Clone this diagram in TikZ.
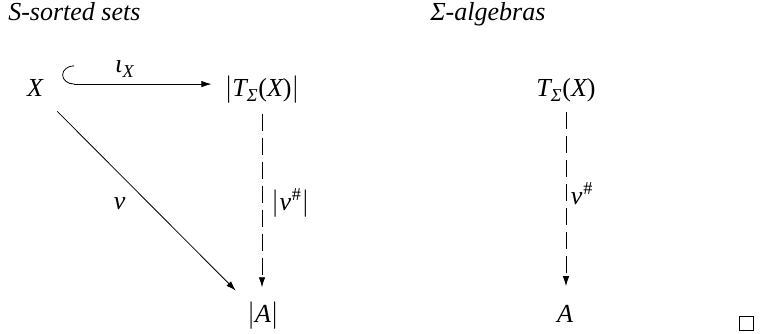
\documentclass[tikz,border=0pt]{standalone}
\usepackage{amsmath}
\usepackage{mathspec}
\setmainfont{Liberation Serif}
\setmathsfont(Digits,Latin,Greek){Liberation Serif}
\usetikzlibrary{arrows.meta, positioning}

\tikzset{
  obj/.style={inner sep=0pt, anchor=base},
  lbl/.style={inner sep=0pt},
  mor/.style={-{Latex[length=7.5pt, width=4.8pt]}, line width=0.6pt},
  hookmor/.style={{Hooks[right, length=9pt, width=28pt]}-{Latex[length=7.5pt, width=4.8pt]}, line width=0.6pt},
  dashmor/.style={mor, dash pattern=on 12.75pt off 5.25pt}
}

\begin{document}
\begin{tikzpicture}[x=0.75pt, y=0.75pt, font=\fontsize{19.5}{23}\selectfont]
  \useasboundingbox (0,0) rectangle (761,334);

  % headings
  \node[obj, anchor=base west] (sets) at (8,313) {\textit{S-sorted sets}};
  \node[obj, anchor=base west] (algs) at (430,313) {\textit{Σ-algebras}};

  % objects
  \node[obj] (X) at (35,237) {$X$};
  \node[obj] (TX) at (262,237) {$|T_{\text{\itshape Σ}}\text{(}X\text{)}|$};
  \node[obj] (A1) at (263,11) {$|A|$};
  \node[obj] (T2) at (566,237) {$T_{\text{\itshape Σ}}\text{(}X\text{)}$};
  \node[obj] (A2) at (565,11) {$A$};

  % morphisms
  \draw[hookmor, shorten <=14.25pt, shorten >=9.75pt]
    ([yshift=3.3pt]X.east) -- ([yshift=3.3pt]X.east -| TX.west)
    node[lbl, pos=0.45, above=5pt] (iota) {$\iota_X$};
  \draw[mor, shorten <=15pt, shorten >=12pt]
    (X.south east) -- (A1.north west)
    node[lbl, pos=0.52, left=17pt] (nu) {$\nu$};
  \draw[dashmor, shorten <=7pt, shorten >=11pt]
    (TX.south) -- (TX.south |- A1.north)
    node[lbl, pos=0.5, right=6.75pt] (nus1) {$|\nu^{\text{\#}}|$};
  \draw[dashmor, shorten <=7pt, shorten >=14.5pt]
    (T2.south) -- (T2.south |- A2.north)
    node[lbl, pos=0.45, right=3pt] (nus2) {$\nu^{\text{\#}}$};

  % end of proof
  \node[draw, line width=0.6pt, minimum size=10.5pt, inner sep=0pt] (qed) at (746,10.5) {};
\end{tikzpicture}
\end{document}
